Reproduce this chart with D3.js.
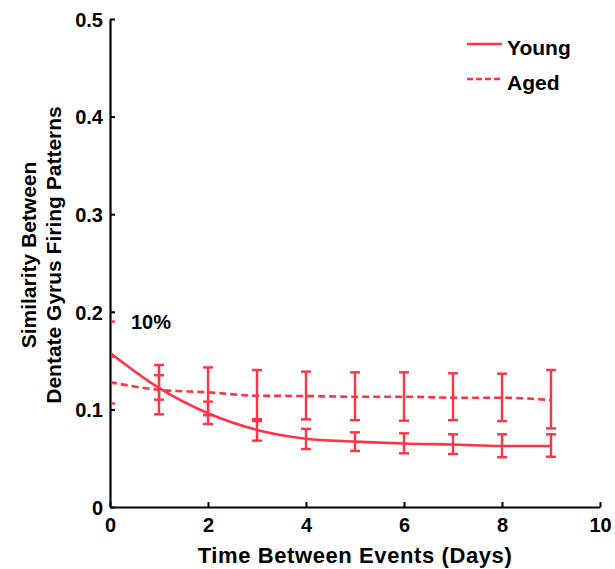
<!DOCTYPE html>
<html>
<head>
<meta charset="utf-8">
<script src="https://cdn.jsdelivr.net/npm/d3@7"></script>
<style>
  html, body { margin: 0; padding: 0; background: #fff; }
  svg { display: block; }
  text { font-family: "Liberation Sans", Arial, sans-serif; font-weight: bold; fill: #000; }
</style>
</head>
<body>
<svg id="chart" width="615" height="569"></svg>
<script>
// Days between the two events
const days = [0, 1, 2, 3, 4, 5, 6, 7, 8, 9];

// Young animals: mean similarity and error-bar limits
const youngMean = [0.158, 0.122, 0.096, 0.079, 0.070, 0.067, 0.065, 0.064, 0.0625, 0.0625];
const youngLow  = [0.127, 0.110, 0.085, 0.068, 0.0594, 0.0574, 0.055, 0.0543, 0.051, 0.0515];
const youngHigh = [0.190, 0.135, 0.108, 0.090, 0.080, 0.0765, 0.0755, 0.0745, 0.0745, 0.0745];

// Aged animals
const agedMean = [0.128, 0.120, 0.1175, 0.114, 0.1137, 0.113, 0.113, 0.112, 0.112, 0.1096];
const agedLow  = [0.106, 0.095, 0.094, 0.088, 0.0898, 0.089, 0.0884, 0.089, 0.088, 0.0806];
const agedHigh = [0.154, 0.1455, 0.143, 0.1404, 0.1387, 0.138, 0.138, 0.137, 0.1366, 0.1404];

const xTicks = [0, 2, 4, 6, 8, 10];
const yTicks = [0, 0.1, 0.2, 0.3, 0.4, 0.5];

const red = "#ff3344";

const svg = d3.select("#chart");
const m = { left: 110, right: 15, top: 19, bottom: 62 };
const W = 615, H = 569;

const x = d3.scaleLinear().domain([0, 10]).range([m.left, W - m.right]);
const y = d3.scaleLinear().domain([0, 0.5]).range([H - m.bottom, m.top]);

// axes
const xAxis = svg.append("g")
  .attr("transform", `translate(0,${y(0)})`)
  .call(d3.axisBottom(x).tickValues(xTicks).tickFormat(d3.format("d")).tickSizeInner(-5).tickSizeOuter(0).tickPadding(11));
const yAxis = svg.append("g")
  .attr("transform", `translate(${x(0)},0)`)
  .call(d3.axisLeft(y).tickValues(yTicks).tickFormat(d => d === 0 ? "0" : d3.format(".1f")(d)).tickSizeInner(-5).tickSizeOuter(0).tickPadding(7));

[xAxis, yAxis].forEach(g => {
  g.select(".domain").attr("stroke", "#000").attr("stroke-width", 2.2);
  g.selectAll(".tick line").attr("stroke", "#000").attr("stroke-width", 2);
  g.selectAll(".tick text").style("font-size", "20px").style("font-weight", "bold")
    .style("font-family", "'Liberation Sans', Arial, sans-serif").attr("fill", "#000");
});
xAxis.selectAll(".tick text").attr("dy", "0.71em");
yAxis.selectAll(".tick text").attr("dy", "0.36em");

// clip to the plotting area so error bars at x = 0 are cut by the axis
svg.append("clipPath").attr("id", "plot")
  .append("rect").attr("x", x(0) + 1).attr("y", 0).attr("width", W).attr("height", y(0) - 1);

const plot = svg.append("g").attr("clip-path", "url(#plot)");

function series(mean, low, high, dash) {
  const pts = days.map((d, i) => [d, mean[i]]);
  const line = d3.line().x(d => x(d[0])).y(d => y(d[1])).curve(d3.curveMonotoneX);
  plot.append("path").datum(pts)
    .attr("d", line)
    .attr("fill", "none")
    .attr("stroke", red)
    .attr("stroke-width", 2.6)
    .attr("stroke-dasharray", dash ? "7,4" : null);

  const eb = plot.append("g").attr("stroke", red).attr("stroke-width", 2.4).attr("fill", "none");
  days.forEach((d, i) => {
    const cx = x(d);
    eb.append("line").attr("x1", cx).attr("x2", cx).attr("y1", y(low[i])).attr("y2", y(high[i]));
    eb.append("line").attr("x1", cx - 5).attr("x2", cx + 5).attr("y1", y(low[i])).attr("y2", y(low[i]));
    eb.append("line").attr("x1", cx - 5).attr("x2", cx + 5).attr("y1", y(high[i])).attr("y2", y(high[i]));
  });
}
series(agedMean, agedLow, agedHigh, true);
series(youngMean, youngLow, youngHigh, false);

// annotation
svg.append("text").attr("x", 131).attr("y", 329).style("font-size", "20px").text("10%");

// legend
const legend = [{ name: "Young", dash: null, ly: 44 }, { name: "Aged", dash: "6,3", ly: 79 }];
legend.forEach(l => {
  svg.append("line").attr("x1", 467).attr("x2", 502).attr("y1", l.ly).attr("y2", l.ly)
    .attr("stroke", red).attr("stroke-width", 2.6).attr("stroke-dasharray", l.dash);
  svg.append("text").attr("x", 507).attr("y", l.ly + 11).style("font-size", "21px").text(l.name);
});

// axis titles
svg.append("text").attr("x", 355).attr("y", 563).attr("text-anchor", "middle")
  .style("font-size", "22px").style("letter-spacing", "0.6px").text("Time Between Events (Days)");

const yl = svg.append("g").attr("transform", `translate(0,255) rotate(-90)`);
yl.append("text").attr("x", 0).attr("y", 36).attr("text-anchor", "middle").style("font-size", "21px").text("Similarity Between");
yl.append("text").attr("x", 0).attr("y", 61).attr("text-anchor", "middle").style("font-size", "21px").text("Dentate Gyrus Firing Patterns");
</script>
</body>
</html>
